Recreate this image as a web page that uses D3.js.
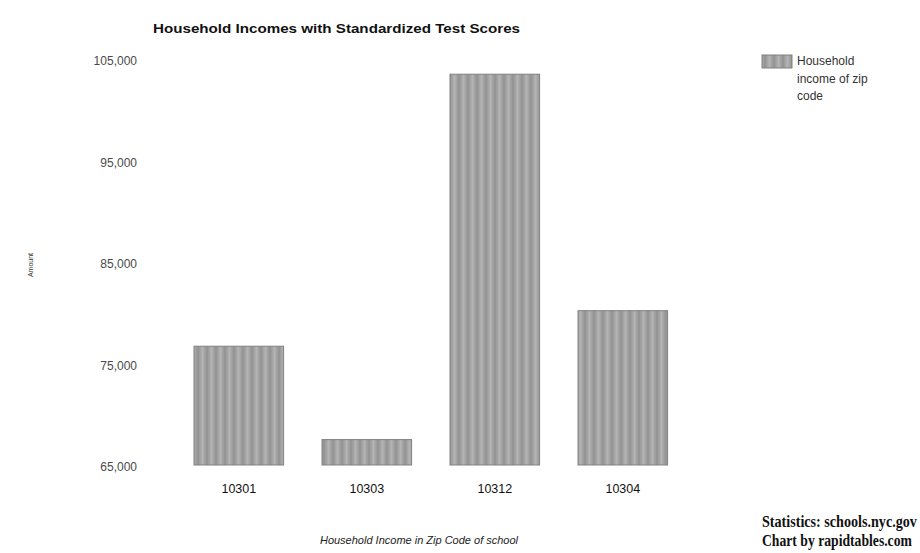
<!DOCTYPE html>
<html>
<head>
<meta charset="utf-8">
<script src="https://cdn.jsdelivr.net/npm/d3@7"></script>
<style>
  html, body { margin: 0; padding: 0; background: #fff; }
  svg { display: block; }
</style>
</head>
<body>
<div id="chart"></div>
<script>
const categories = ["10301", "10303", "10312", "10304"];
const incomeValues = [76900, 67700, 103700, 80400];
const yTicks = [65000, 75000, 85000, 95000, 105000];
const seriesName = ["Household", "income of zip", "code"];
const titleText = "Household Incomes with Standardized Test Scores";
const xTitle = "Household Income in Zip Code of school";
const yTitle = "Amount";
const creditLines = ["Statistics:  schools.nyc.gov", "Chart by rapidtables.com"];

const W = 920, H = 553;
const svg = d3.select("#chart").append("svg").attr("width", W).attr("height", H);

// soft vertical stripe pattern for bars
const defs = svg.append("defs");
const grad = defs.append("linearGradient").attr("id", "stripeGrad")
  .attr("x1", "0%").attr("x2", "100%").attr("y1", "0%").attr("y2", "0%");
grad.append("stop").attr("offset", "0%").attr("stop-color", "#929292");
grad.append("stop").attr("offset", "50%").attr("stop-color", "#b4b4b4");
grad.append("stop").attr("offset", "100%").attr("stop-color", "#929292");
const pat = defs.append("pattern").attr("id", "stripes")
  .attr("patternUnits", "userSpaceOnUse").attr("width", 9).attr("height", 4);
pat.append("rect").attr("width", 9).attr("height", 4).attr("fill", "url(#stripeGrad)");

const x = d3.scaleBand().domain(categories).range([174.8, 686.8])
  .paddingInner(0.3).paddingOuter(0.15);
const y = d3.scaleLinear().domain([65000, 105000]).range([467, 61]);

// title
svg.append("text").attr("x", 153).attr("y", 33)
  .attr("font-family", "Liberation Sans, Arial, sans-serif")
  .attr("font-weight", "bold").attr("font-size", 12.5)
  .attr("textLength", 367).attr("lengthAdjust", "spacingAndGlyphs")
  .attr("fill", "#111").text(titleText);

// y axis
const yAxis = d3.axisLeft(y).tickValues(yTicks).tickSize(0).tickPadding(0)
  .tickFormat(d3.format(","));
const gy = svg.append("g").attr("transform", "translate(137,0)").call(yAxis);
gy.select(".domain").remove();
gy.selectAll("text").attr("font-family", "Liberation Sans, Arial, sans-serif")
  .attr("font-size", 12).attr("fill", "#4a4a4a");

// bars
svg.append("g").selectAll("rect").data(categories).join("rect")
  .attr("x", d => x(d))
  .attr("y", (d, i) => y(incomeValues[i]))
  .attr("width", x.bandwidth())
  .attr("height", (d, i) => y(65000) - 2 - y(incomeValues[i]))
  .attr("fill", "url(#stripes)")
  .attr("stroke", "#808080").attr("stroke-width", 1);

// x axis
const xAxis = d3.axisBottom(x).tickSize(0).tickPadding(0);
const gx = svg.append("g").attr("transform", "translate(0,484)").call(xAxis);
gx.select(".domain").remove();
gx.selectAll("text").attr("font-family", "Liberation Sans, Arial, sans-serif")
  .attr("font-size", 12.5).attr("fill", "#111");

// axis titles
svg.append("text").attr("x", 419).attr("y", 544).attr("text-anchor", "middle")
  .attr("font-family", "Liberation Sans, Arial, sans-serif")
  .attr("font-style", "italic").attr("font-size", 11).attr("fill", "#222")
  .text(xTitle);
svg.append("text").attr("transform", "translate(33,265) rotate(-90)")
  .attr("text-anchor", "middle")
  .attr("font-family", "Liberation Sans, Arial, sans-serif")
  .attr("font-size", 7).attr("fill", "#333").text(yTitle);

// legend
svg.append("rect").attr("x", 762).attr("y", 55).attr("width", 30).attr("height", 13)
  .attr("fill", "url(#stripes)").attr("stroke", "#808080");
svg.append("g").selectAll("text").data(seriesName).join("text")
  .attr("x", 797).attr("y", (d, i) => 65 + i * 17.5)
  .attr("font-family", "Liberation Sans, Arial, sans-serif")
  .attr("font-size", 12).attr("fill", "#333").text(d => d);

// credits: condensed horizontally via transform so the box stays within the page
const creditWidths = [155, 150];
creditLines.forEach((line, i) => {
  const g = svg.append("g");
  const t = g.append("text").attr("x", 0).attr("y", 0)
    .attr("font-family", "Liberation Serif, Times New Roman, serif")
    .attr("font-weight", "bold").attr("font-size", 16.5).attr("fill", "#111")
    .text(line);
  const natural = t.node().getComputedTextLength();
  const sx = creditWidths[i] / natural;
  g.attr("transform", `translate(762,${527 + i * 19}) scale(${sx},1)`);
});
</script>
</body>
</html>
